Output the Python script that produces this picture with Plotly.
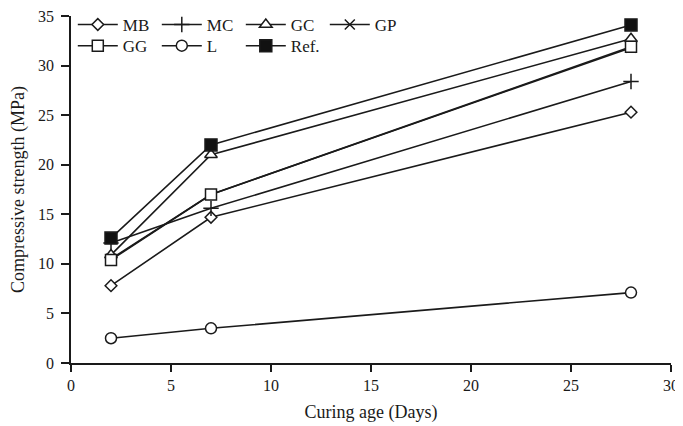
import plotly.graph_objects as go

days = [2, 7, 28]
series_names = ["MB", "MC", "GC", "GP", "GG", "L", "Ref."]
mb = [7.8, 14.7, 25.3]
mc = [12.1, 15.6, 28.4]
gc = [10.9, 21.0, 32.7]
gp = [10.5, 17.0, 31.8]
gg = [10.4, 17.0, 31.9]
lime = [2.5, 3.5, 7.1]
ref = [12.6, 22.0, 34.1]

values = [mb, mc, gc, gp, gg, lime, ref]
symbols = ["diamond", "cross-thin", "triangle-up", "x-thin", "square", "circle", "square"]
fills = ["white", "black", "white", "black", "white", "white", "#111111"]
sizes = [9, 11, 11, 10, 11, 11, 12]
legend_ids = ["legend", "legend", "legend", "legend", "legend2", "legend2", "legend2"]

ink = "#1a1a1a"
font = "Liberation Serif"

fig = go.Figure()
for name, vals, sym, fill, sz, lg in zip(series_names, values, symbols, fills, sizes, legend_ids):
    fig.add_trace(go.Scatter(
        x=days, y=vals, name=name, mode="lines+markers",
        line=dict(color=ink, width=1.6),
        marker=dict(symbol=sym, size=sz, color=fill, line=dict(color=ink, width=1.5)),
        legend=lg,
    ))

legend_common = dict(
    orientation="h", x=0.003, xanchor="left", yanchor="top",
    bgcolor="rgba(0,0,0,0)", font=dict(family=font, size=17, color=ink),
    entrywidth=29, entrywidthmode="pixels", itemwidth=40,
    tracegroupgap=0, traceorder="normal",
)

# page body adds an 8px margin, so the figure is sized/margined to compensate
fig.update_layout(
    width=675, height=418,
    margin=dict(l=63, r=12, t=8, b=63, autoexpand=False),
    paper_bgcolor="white", plot_bgcolor="white",
    font=dict(family=font, size=16, color=ink),
    showlegend=True,
    legend=dict(y=1.026, **legend_common),
    legend2=dict(y=0.965, **legend_common),
    xaxis=dict(
        range=[0, 30], tickvals=[0, 5, 10, 15, 20, 25, 30],
        showgrid=False, zeroline=False, showline=True, linecolor=ink, linewidth=1.5,
        ticks="outside", ticklen=7, tickwidth=1.5, tickcolor=ink,
        ticklabeloverflow="allow",
        title=dict(text="Curing age (Days)", font=dict(family=font, size=18), standoff=12),
        tickfont=dict(family=font, size=16), automargin=False,
    ),
    yaxis=dict(
        range=[0, 35], tickvals=[0, 5, 10, 15, 20, 25, 30, 35],
        showgrid=False, zeroline=False, showline=True, linecolor=ink, linewidth=1.5,
        ticks="outside", ticklen=8, tickwidth=1.5, tickcolor=ink, ticklabelstandoff=4,
        ticklabeloverflow="allow",
        title=dict(text="Compressive strength (MPa)", font=dict(family=font, size=18), standoff=12),
        tickfont=dict(family=font, size=16), automargin=False,
    ),
)

fig.write_html("out.html")
